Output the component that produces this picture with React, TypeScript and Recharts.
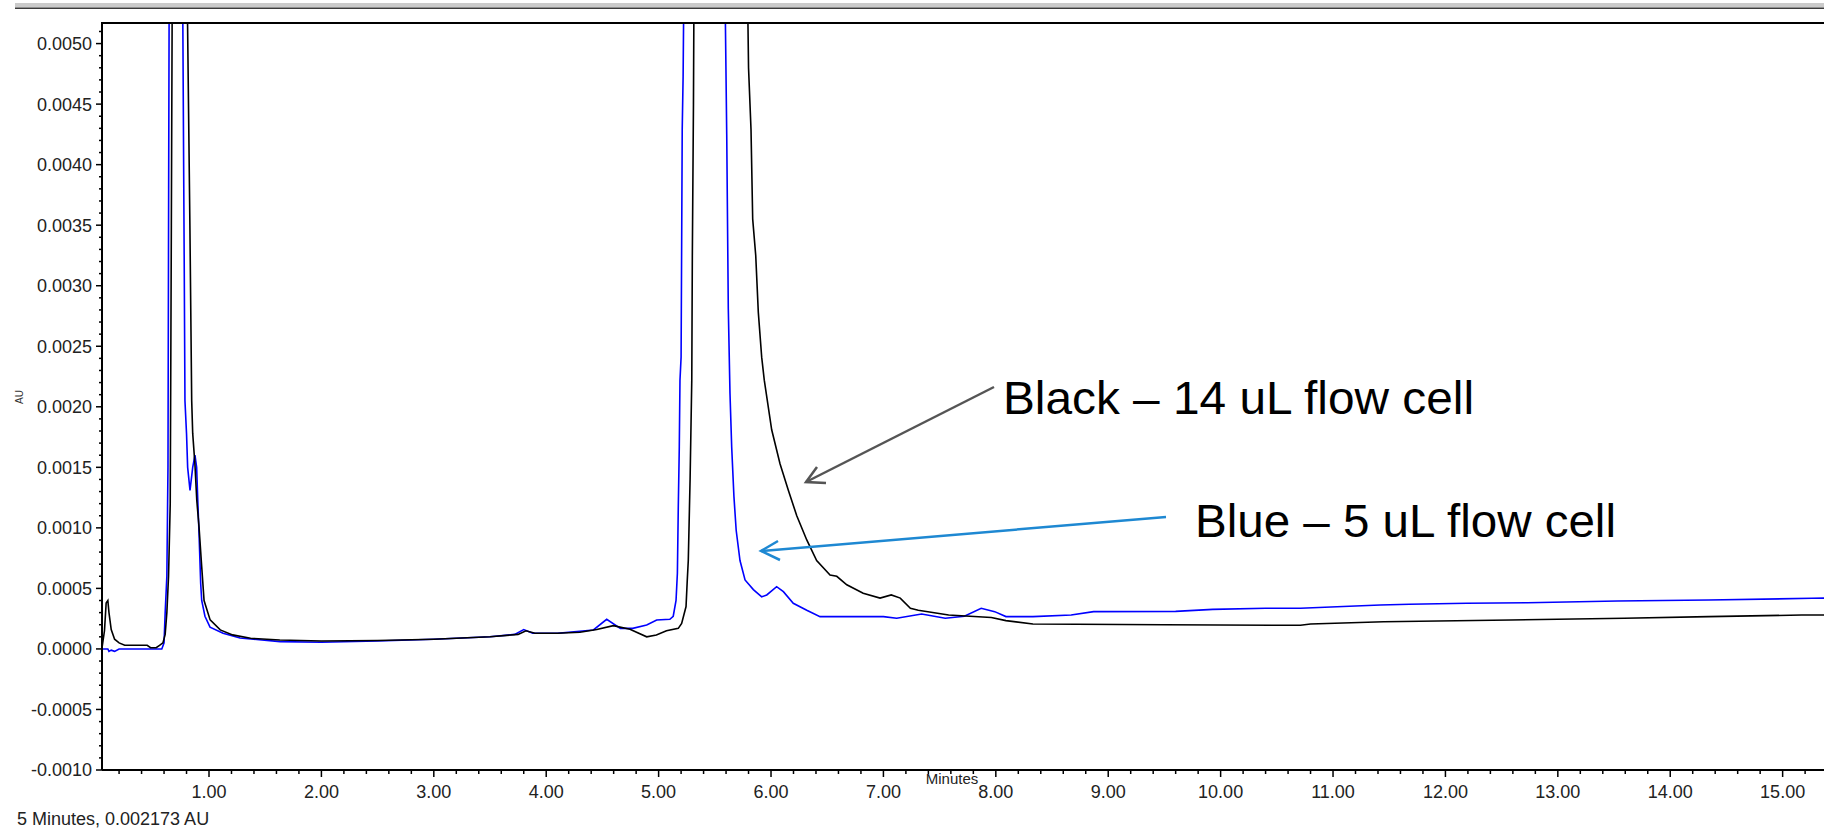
import React from 'react';
import { LineChart, Line, XAxis, YAxis } from 'recharts';

// 14 uL flow cell (black trace): retention time (min) and absorbance (AU)
const blackTime = [
  0.05, 0.07, 0.085, 0.1, 0.11, 0.13, 0.16, 0.2, 0.25, 0.35, 0.45, 0.48, 0.53, 0.56, 0.59, 0.61,
  0.625, 0.64, 0.655, 0.665, 0.672, 0.73, 0.805, 0.83, 0.846, 0.855, 0.875, 0.891, 0.911, 0.935,
  0.956, 1.01, 1.1, 1.21, 1.37, 1.63, 2.0, 2.5, 3.0, 3.5, 3.75, 3.82, 3.9, 4.1, 4.3, 4.45, 4.597,
  4.745, 4.894, 4.98, 5.07, 5.175, 5.205, 5.244, 5.255, 5.264, 5.28, 5.295, 5.3, 5.31, 5.315, 5.55,
  5.79, 5.8, 5.822, 5.837, 5.864, 5.887, 5.917, 5.94, 6.006, 6.08, 6.154, 6.229, 6.318, 6.406,
  6.525, 6.585, 6.674, 6.82, 6.97, 7.07, 7.15, 7.24, 7.31, 7.58, 7.96, 8.09, 8.33, 9.5, 10.71,
  10.8, 11.45, 12.58, 13.59, 14.34, 15.17, 15.4,
];
const blackAU = [
  0.00002, 0.00015, 0.00038, 0.0004, 0.0003, 0.00016, 0.00008, 0.00005, 0.00003, 0.00003, 0.00003,
  0.00001, 0.00001, 0.00003, 0.00005, 0.00012, 0.0003, 0.0006, 0.0012, 0.0035, 0.0052, 0.012,
  0.0055, 0.0035, 0.00205, 0.00178, 0.00152, 0.00123, 0.00101, 0.00068, 0.0004, 0.00024, 0.000157,
  0.000116, 0.000088, 0.000074, 0.000065, 0.00007, 0.00008, 0.0001, 0.00012, 0.00015, 0.00013,
  0.00013, 0.000138, 0.00016, 0.000192, 0.000162, 0.0001, 0.000115, 0.00015, 0.00017, 0.00021,
  0.00035, 0.00057, 0.00073, 0.0014, 0.00222, 0.00325, 0.0045, 0.0055, 0.03, 0.0055, 0.0048,
  0.00429, 0.00355, 0.00325, 0.00278, 0.00241, 0.00222, 0.00181, 0.00153, 0.00131, 0.0011, 0.0009,
  0.00073, 0.00061, 0.0006, 0.00053, 0.00046, 0.00042, 0.000446, 0.00042, 0.000336, 0.00032,
  0.00028, 0.00026, 0.000234, 0.000206, 0.0002, 0.000195, 0.000206, 0.000225, 0.000239, 0.000253,
  0.000267, 0.00028, 0.00028,
];

// 5 uL flow cell (blue trace)
const blueTime = [
  0.05, 0.1, 0.11, 0.13, 0.16, 0.2, 0.4, 0.58, 0.6, 0.61, 0.625, 0.635, 0.641, 0.645, 0.7, 0.767,
  0.78, 0.786, 0.8, 0.81, 0.831, 0.855, 0.875, 0.89, 0.9, 0.911, 0.926, 0.935, 0.964, 1.009, 1.125,
  1.276, 1.632, 2.0, 2.5, 3.0, 3.5, 3.72, 3.8, 3.88, 4.1, 4.42, 4.538, 4.66, 4.77, 4.894, 4.983,
  5.1, 5.13, 5.155, 5.167, 5.175, 5.184, 5.19, 5.2, 5.21, 5.218, 5.225, 5.42, 5.59, 5.606, 5.62,
  5.635, 5.65, 5.67, 5.69, 5.724, 5.769, 5.843, 5.917, 5.962, 6.05, 6.11, 6.198, 6.318, 6.436, 7.0,
  7.118, 7.34, 7.55, 7.72, 7.87, 7.99, 8.09, 8.33, 8.67, 8.87, 9.6, 9.93, 10.4, 10.71, 11.09, 11.42,
  11.68, 12.19, 12.73, 13.53, 14.34, 15.26, 15.4,
];
const blueAU = [
  0.0, 0.0, -0.00002, -0.00001, -0.00002, 0.0, 0.0, 0.0, 0.00005, 0.0003, 0.0006, 0.0015, 0.0038,
  0.0052, 0.015, 0.0052, 0.0031, 0.00205, 0.00178, 0.0015, 0.00131, 0.0015, 0.0016, 0.0015, 0.00123,
  0.00096, 0.00054, 0.0004, 0.00027, 0.00018, 0.00013, 0.00009, 0.00006, 0.000055, 0.000065,
  0.00008, 0.0001, 0.00012, 0.00016, 0.00013, 0.00013, 0.000157, 0.000245, 0.00017, 0.00017,
  0.000198, 0.000239, 0.000245, 0.00027, 0.0004, 0.000625, 0.00117, 0.00167, 0.00222, 0.00241,
  0.00429, 0.00473, 0.0055, 0.04, 0.0055, 0.00425, 0.00281, 0.00211, 0.00167, 0.00126, 0.00098,
  0.00073, 0.00057, 0.00049, 0.00043, 0.000446, 0.000514, 0.000473, 0.000377, 0.00032, 0.000267,
  0.000267, 0.000253, 0.000289, 0.000253, 0.00027, 0.000336, 0.000308, 0.000267, 0.000267, 0.00028,
  0.000308, 0.00031, 0.000327, 0.000336, 0.000336, 0.00035, 0.000363, 0.000369, 0.000377, 0.000382,
  0.000396, 0.000404, 0.000418, 0.00042,
];

const xMajorTicks = [1, 2, 3, 4, 5, 6, 7, 8, 9, 10, 11, 12, 13, 14, 15];
const yMajorTicks = [-0.001, -0.0005, 0, 0.0005, 0.001, 0.0015, 0.002, 0.0025, 0.003, 0.0035, 0.004, 0.0045, 0.005];

const blackData = blackTime.map((t, i) => ({ t, au: blackAU[i] }));
const blueData = blueTime.map((t, i) => ({ t, au: blueAU[i] }));

// minor ticks every 0.2 min and 0.0001 AU
const xTicks: number[] = [];
for (let i = 1; i <= 76; i++) xTicks.push(Math.round(i * 2) / 10);
const yTicks: number[] = [];
for (let i = -10; i <= 51; i++) yTicks.push(i / 10000);

const FONT = '"Liberation Sans", Arial, sans-serif';

const XTick = (props: any) => {
  const { x, y, payload } = props;
  const v = payload.value;
  const major = xMajorTicks.some((m) => Math.abs(m - v) < 1e-6);
  return (
    <g>
      <line x1={x} x2={x} y1={y} y2={y + (major ? 7 : 4)} stroke="#000" strokeWidth={1.5} />
      {major && (
        <text x={x} y={y + 28} textAnchor="middle" fontSize={18} fontFamily={FONT} fill="#222">
          {v.toFixed(2)}
        </text>
      )}
    </g>
  );
};

const YTick = (props: any) => {
  const { x, y, payload } = props;
  const v = payload.value;
  const major = yMajorTicks.some((m) => Math.abs(m - v) < 1e-9);
  return (
    <g>
      <line x1={x - (major ? 6 : 3)} x2={x} y1={y} y2={y} stroke="#000" strokeWidth={1.5} />
      {major && (
        <text x={x - 10} y={y} dy="0.36em" textAnchor="end" fontSize={18} fontFamily={FONT} fill="#222">
          {v.toFixed(4)}
        </text>
      )}
    </g>
  );
};

const Overlay = () => (
  <svg width={1824} height={830} style={{ position: 'absolute', left: 0, top: 0, pointerEvents: 'none' }}>
    <rect x={15} y={3} width={1809} height={4.5} fill="#cbcbcb" />
    <rect x={15} y={7.5} width={1809} height={1.5} fill="#3c3c3c" />
    <line x1={101} x2={1824} y1={23} y2={23} stroke="#000" strokeWidth={2} />
    <text
      x={19}
      y={397}
      transform="rotate(-90 19 397)"
      textAnchor="middle"
      dy="0.35em"
      fontSize={10}
      fontFamily={FONT}
      fill="#333"
    >
      AU
    </text>
    <text x={952} y={784} textAnchor="middle" fontSize={15} fontFamily={FONT} fill="#222">
      Minutes
    </text>
    <text x={17} y={825} fontSize={18} fontFamily={FONT} fill="#222">
      5 Minutes, 0.002173 AU
    </text>

    {/* annotation: black trace */}
    <line x1={994} y1={387} x2={806} y2={482} stroke="#555" strokeWidth={2.5} />
    <polyline points="817,467 806,482 826,483" fill="none" stroke="#555" strokeWidth={2.5} />
    <text x={1003} y={414} fontSize={47} fontFamily={FONT} fill="#000" textLength={471} lengthAdjust="spacingAndGlyphs">
      Black – 14 uL flow cell
    </text>

    {/* annotation: blue trace */}
    <line x1={1166} y1={517} x2={761} y2={551} stroke="#1e88d2" strokeWidth={2.5} />
    <polyline points="778,541 761,551 780,560" fill="none" stroke="#1e88d2" strokeWidth={2.5} />
    <text x={1195} y={537} fontSize={47} fontFamily={FONT} fill="#000" textLength={421} lengthAdjust="spacingAndGlyphs">
      Blue – 5 uL flow cell
    </text>
  </svg>
);

export default function App() {
  return (
    <div style={{ position: 'absolute', left: 0, top: 0, width: 1824, height: 830, background: '#fff' }}>
      <LineChart width={1824} height={830} margin={{ top: 23, right: 0, bottom: 0, left: 0 }}>
        <XAxis
          type="number"
          dataKey="t"
          domain={[0.048, 15.368]}
          allowDataOverflow
          ticks={xTicks}
          interval={0}
          height={60}
          tickSize={0}
          tickMargin={0}
          tickLine={false}
          tick={<XTick />}
          axisLine={{ stroke: '#000', strokeWidth: 2 }}
        />
        <YAxis
          type="number"
          dataKey="au"
          domain={[-0.001, 0.00517]}
          allowDataOverflow
          ticks={yTicks}
          interval={0}
          width={102}
          tickSize={0}
          tickMargin={0}
          tickLine={false}
          tick={<YTick />}
          axisLine={{ stroke: '#000', strokeWidth: 2 }}
        />
        <Line
          data={blueData}
          dataKey="au"
          type="linear"
          stroke="#0000ff"
          strokeWidth={1.6}
          dot={false}
          isAnimationActive={false}
        />
        <Line
          data={blackData}
          dataKey="au"
          type="linear"
          stroke="#000000"
          strokeWidth={1.6}
          dot={false}
          isAnimationActive={false}
        />
      </LineChart>
      <Overlay />
    </div>
  );
}
